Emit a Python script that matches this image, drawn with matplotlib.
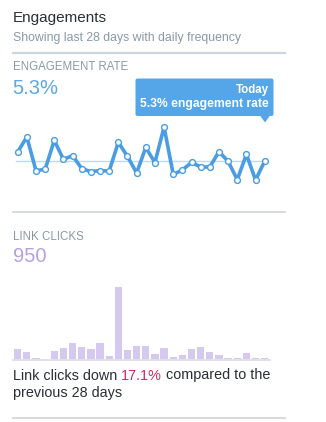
import matplotlib
matplotlib.use("Agg")
import matplotlib.pyplot as plt
from matplotlib.patches import FancyBboxPatch, Polygon
import numpy as np

# engagement rate per day (%), last 28 days
days = np.arange(28)
rate = [5.75, 6.50, 4.82, 4.88, 6.33, 5.38, 5.57, 4.92, 4.77, 4.82,
        4.80, 6.23, 5.53, 4.70, 5.98, 5.22, 7.00, 4.63, 4.85, 5.23,
        5.00, 5.00, 5.77, 5.28, 4.37, 5.63, 4.35, 5.30]
avg_rate = 5.3

# link clicks per day
clicks = [35, 25, 6, 2, 29, 39, 55, 43, 35, 57, 10, 252, 31, 45, 45, 17,
          39, 8, 14, 36, 43, 25, 16, 5, 5, 23, 6, 4]

W, H = 326, 422
plt.rcParams['font.family'] = ['Liberation Sans', 'DejaVu Sans']

fig = plt.figure(figsize=(W / 100, H / 100), dpi=100)
bg = fig.add_axes([0, 0, 1, 1])
bg.set_xlim(0, W)
bg.set_ylim(H, 0)
bg.axis('off')

dark = '#292f33'
grey = '#8899a6'
sep = '#ccd6dd'
blue = '#4a9de2'

def px_axes(x0, x1, y0, y1):
    # pixel box (top y0, bottom y1) -> figure axes
    return fig.add_axes([x0 / W, 1 - y1 / H, (x1 - x0) / W, (y1 - y0) / H])

# header
bg.text(13, 18, 'Engagements', fontsize=11, color=dark, va='center')
bg.text(13, 37.5, 'Showing last 28 days with daily frequency', fontsize=8.8,
        color=grey, va='center')
bg.plot([13, 285], [52.5, 52.5], color=sep, lw=1.6)

# engagement rate block
bg.text(13, 67.5, 'ENGAGEMENT RATE', fontsize=8.3, color=grey, va='center')
bg.text(12.5, 88, '5.3%', fontsize=14.5, color='#5aa8ea', va='center')
bg.plot([13, 285], [211.7, 211.7], color=sep, lw=1.2)

ax1 = px_axes(13.1, 269.3, 120, 200)
ax1.set_xlim(-0.5, 27.5)
ax1.set_ylim(avg_rate - 39 / 20, avg_rate + 41 / 20)
ax1.axhline(avg_rate, color='#b9dbf5', lw=1, xmin=0.01, xmax=0.99, zorder=1)
ax1.plot(days, rate, color=blue, lw=2.6, zorder=2, solid_joinstyle='round')
ax1.plot(days, rate, 'o', ms=4.2, mfc='white', mec=blue, mew=1, zorder=3)
ax1.axis('off')

# tooltip
tip_col = '#55a6e8'
bg.add_patch(FancyBboxPatch((135.5, 78.5), 138, 37.5,
                            boxstyle='round,pad=0,rounding_size=2',
                            fc=tip_col, ec='none'))
bg.add_patch(Polygon([[260, 115.5], [270, 115.5], [265, 122.5]],
                     closed=True, fc=tip_col, ec='none'))
bg.text(268.5, 90, 'Today', fontsize=8.3, color='white', ha='right',
        va='center', fontweight='bold')
bg.text(268.5, 104, '5.3% engagement rate', fontsize=8.7, color='white',
        ha='right', va='center', fontweight='bold')

# link clicks block
bg.text(13, 236.5, 'LINK CLICKS', fontsize=8.3, color=grey, va='center')
bg.text(12.5, 256.5, '950', fontsize=14.5, color='#b7a0e2', va='center')

bg.plot([13, 270], [360, 360], color='#d8dbe0', lw=1.2, zorder=1)
ax2 = px_axes(13.1, 269.3, 280, 359.3)
ax2.set_xlim(-0.5, 27.5)
ax2.set_ylim(0, 275)
ax2.bar(days, clicks, width=0.8, color='#d6c9ef', zorder=2)
ax2.axis('off')

fs = 10.4
t = bg.text(13, 375.5, 'Link clicks down ', fontsize=fs, color=dark,
            va='center')
fig.canvas.draw()
x_red = t.get_window_extent().x1 * W / fig.bbox.width
t2 = bg.text(x_red, 375.5, '17.1%', fontsize=fs, color='#e0245e',
             va='center')
fig.canvas.draw()
x_rest = t2.get_window_extent().x1 * W / fig.bbox.width
bg.text(x_rest, 375.5, ' compared to the', fontsize=fs, color=dark,
        va='center')
bg.text(13, 393, 'previous 28 days', fontsize=fs, color=dark, va='center')
bg.plot([13, 285], [418.3, 418.3], color=sep, lw=1.2)

fig.savefig('out.png', dpi=100, facecolor='white')
